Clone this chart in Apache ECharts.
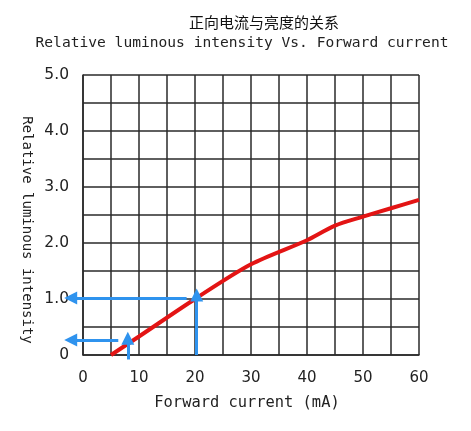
<!DOCTYPE html>
<html><head><meta charset="utf-8">
<script src="https://cdn.jsdelivr.net/npm/echarts@6/dist/echarts.min.js"></script>
<style>html,body{margin:0;padding:0;background:#fff}#c{width:471px;height:431px}</style>
</head><body><div id="c"></div>
<script>
// Data
const titleText = '正向电流与亮度的关系';
const subtitleText = 'Relative luminous intensity Vs. Forward current';
const xName = 'Forward current (mA)';
const yName = 'Relative luminous intensity';
const xTickLabels = ['0', '10', '20', '30', '40', '50', '60'];
const yTickLabels = ['0', '1.0', '2.0', '3.0', '4.0', '5.0'];
const currentMA = [5, 10, 20, 30, 40, 45, 50, 55, 60];
const intensity = [0, 0.33, 1.0, 1.62, 2.05, 2.31, 2.47, 2.62, 2.77];
// reading arrows: [x1, y1, x2, y2]
const arrowVertical = [[20.3, 0, 20.3, 1.07], [8, -0.08, 8, 0.3]];
const arrowHorizontal = [[18.5, 1.02, -2.2, 1.02], [6.3, 0.27, -2.2, 0.27]];

const chart = echarts.init(document.getElementById('c'));
const font = 'DejaVu Sans';
const mono = 'DejaVu Sans Mono';
const arrows = arrowVertical.concat(arrowHorizontal).map(a => ({coords: [[a[0], a[1]], [a[2], a[3]]]}));
chart.setOption({
  animation: false,
  title: [
    {text: titleText, left: 259, top: 10, textAlign: 'center',
     textStyle: {fontFamily: 'Noto Sans CJK SC', fontSize: 15, fontWeight: 'normal', color: '#111'}},
    {text: subtitleText, left: 237, top: 31, textAlign: 'center',
     textStyle: {fontFamily: mono, fontSize: 14.6, fontWeight: 'normal', color: '#222'}}
  ],
  grid: {left: 83, right: 52, top: 75, bottom: 76},
  xAxis: {
    type: 'value', min: 0, max: 60, interval: 5,
    name: xName, nameLocation: 'middle', nameGap: 40,
    nameTextStyle: {fontFamily: mono, fontSize: 15.4, color: '#222', padding: [0, 8, 0, 0]},
    axisLine: {show: true, lineStyle: {color: '#2a2a2a', width: 1.5}},
    axisTick: {show: false},
    splitLine: {show: true, lineStyle: {color: '#2a2a2a', width: 1.5}},
    axisLabel: {margin: 16, fontFamily: font, fontSize: 15, color: '#222',
      formatter: v => (v % 10 === 0 ? xTickLabels[v / 10] : '')}
  },
  yAxis: {
    type: 'value', min: 0, max: 5, interval: 0.5,
    name: yName, nameLocation: 'middle', nameGap: 49, nameRotate: -90,
    nameTextStyle: {fontFamily: mono, fontSize: 14, color: '#222', padding: [0, 0, 0, 30]},
    axisLine: {show: true, lineStyle: {color: '#2a2a2a', width: 1.5}},
    axisTick: {show: false},
    splitLine: {show: true, lineStyle: {color: '#2a2a2a', width: 1.5}},
    axisLabel: {margin: 14, fontFamily: font, fontSize: 15.5, color: '#222',
      formatter: v => (Math.abs(v - Math.round(v)) < 1e-6 ? yTickLabels[Math.round(v)] : '')}
  },
  series: [
    {type: 'line', data: currentMA.map((x, i) => [x, intensity[i]]), smooth: 0.3,
     symbol: 'none', lineStyle: {color: '#e31414', width: 4}, z: 3},
    {type: 'lines', coordinateSystem: 'cartesian2d', clip: false, z: 4,
     symbol: ['none', 'triangle'], symbolSize: 13,
     lineStyle: {color: '#2f93ee', width: 3, opacity: 1},
     data: arrows}
  ]
});
</script></body></html>
